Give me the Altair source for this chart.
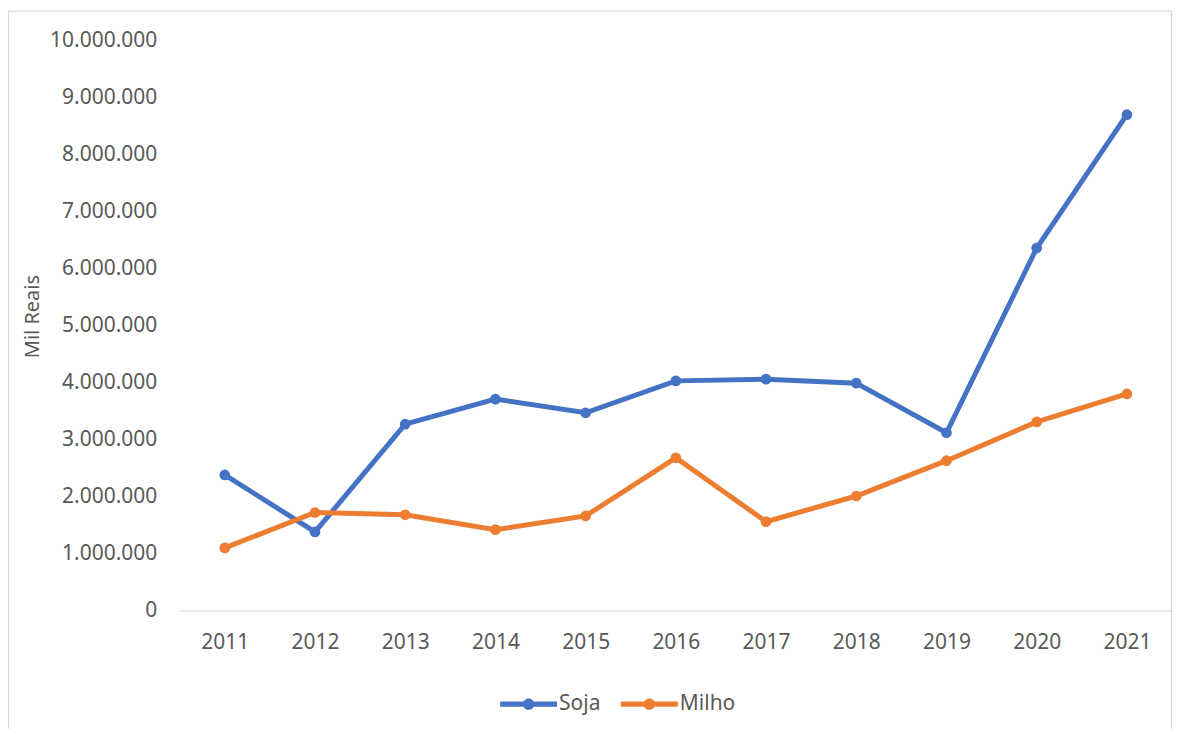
import altair as alt
import pandas as pd

anos = ["2011", "2012", "2013", "2014", "2015", "2016", "2017", "2018", "2019", "2020", "2021"]
soja = [2380000, 1380000, 3270000, 3710000, 3470000, 4030000, 4060000, 3990000, 3120000, 6360000, 8700000]
milho = [1100000, 1720000, 1680000, 1420000, 1660000, 2680000, 1560000, 2010000, 2630000, 3310000, 3800000]
series = ["Soja", "Milho"]
cores = ["#4472C4", "#ED7D31"]

rows = []
for nome, vals in zip(series, [soja, milho]):
    for a, v in zip(anos, vals):
        rows.append({"Ano": a, "Valor": v, "Serie": nome})
df = pd.DataFrame(rows)

FONT = "Noto Sans"
TXT = "#595959"

sym = ("M-1,-0.09H-0.15V0.09H-1Z M0.15,-0.09H1V0.09H0.15Z "
       "M0.2,0A0.2,0.2,0,1,1,-0.2,0A0.2,0.2,0,1,1,0.2,0Z")

x = alt.X("Ano:O", sort=anos, title=None,
          scale=alt.Scale(paddingOuter=0.5, paddingInner=1),
          axis=alt.Axis(labelAngle=0, ticks=False, tickSize=0, grid=False,
                        domainColor="#d9d9d9", domainWidth=1.2,
                        labelFont=FONT, labelFontSize=21, labelColor=TXT,
                        labelPadding=21))
y = alt.Y("Valor:Q", title="Mil Reais",
          scale=alt.Scale(domain=[0, 10000000], nice=False),
          axis=alt.Axis(values=list(range(0, 10000001, 1000000)), grid=False,
                        domain=False, ticks=False, tickSize=0,
                        labelExpr="replace(format(datum.value, ',d'), regexp(',', 'g'), '.')",
                        labelFont=FONT, labelFontSize=21, labelColor=TXT,
                        labelPadding=23,
                        titleFont=FONT, titleFontSize=20, titleFontWeight="normal",
                        titleColor=TXT, titleAngle=270, titleX=-147, titleY=276,
                        titleAlign="center", titleBaseline="middle"))
color_scale = alt.Scale(domain=series, range=cores)
legend = alt.Legend(title=None, orient="none", direction="horizontal",
                    legendX=321, legendY=636,
                    symbolType=sym, symbolSize=3249,
                    symbolStrokeWidth=0, symbolOpacity=1, labelOffset=2,
                    columnPadding=20,
                    labelFont=FONT, labelFontSize=21, labelColor=TXT)
color = alt.Color("Serie:N", scale=color_scale, sort=series, legend=legend)

base = alt.Chart(df)
lines = base.mark_line(strokeWidth=5).encode(x=x, y=y, color=color)
points = base.mark_point(filled=True, size=115, opacity=1).encode(x=x, y=y, color=color)

border = alt.Chart(pd.DataFrame({"k": [0]})).mark_rect(
    fill=None, stroke="#d9d9d9", strokeWidth=1.2, clip=False).encode(
    x=alt.value(-171.5), x2=alt.value(993.5), y=alt.value(-29.5), y2=alt.value(760))

chart = alt.layer(border, lines, points).properties(
    width=994, height=571,
    autosize=alt.AutoSizeParams(type="none"),
    padding={"left": 172, "top": 32, "right": 2, "bottom": 118},
    background="white",
).configure_view(stroke=None)

chart.save("out.html", embed_options={"renderer": "svg", "actions": False})
